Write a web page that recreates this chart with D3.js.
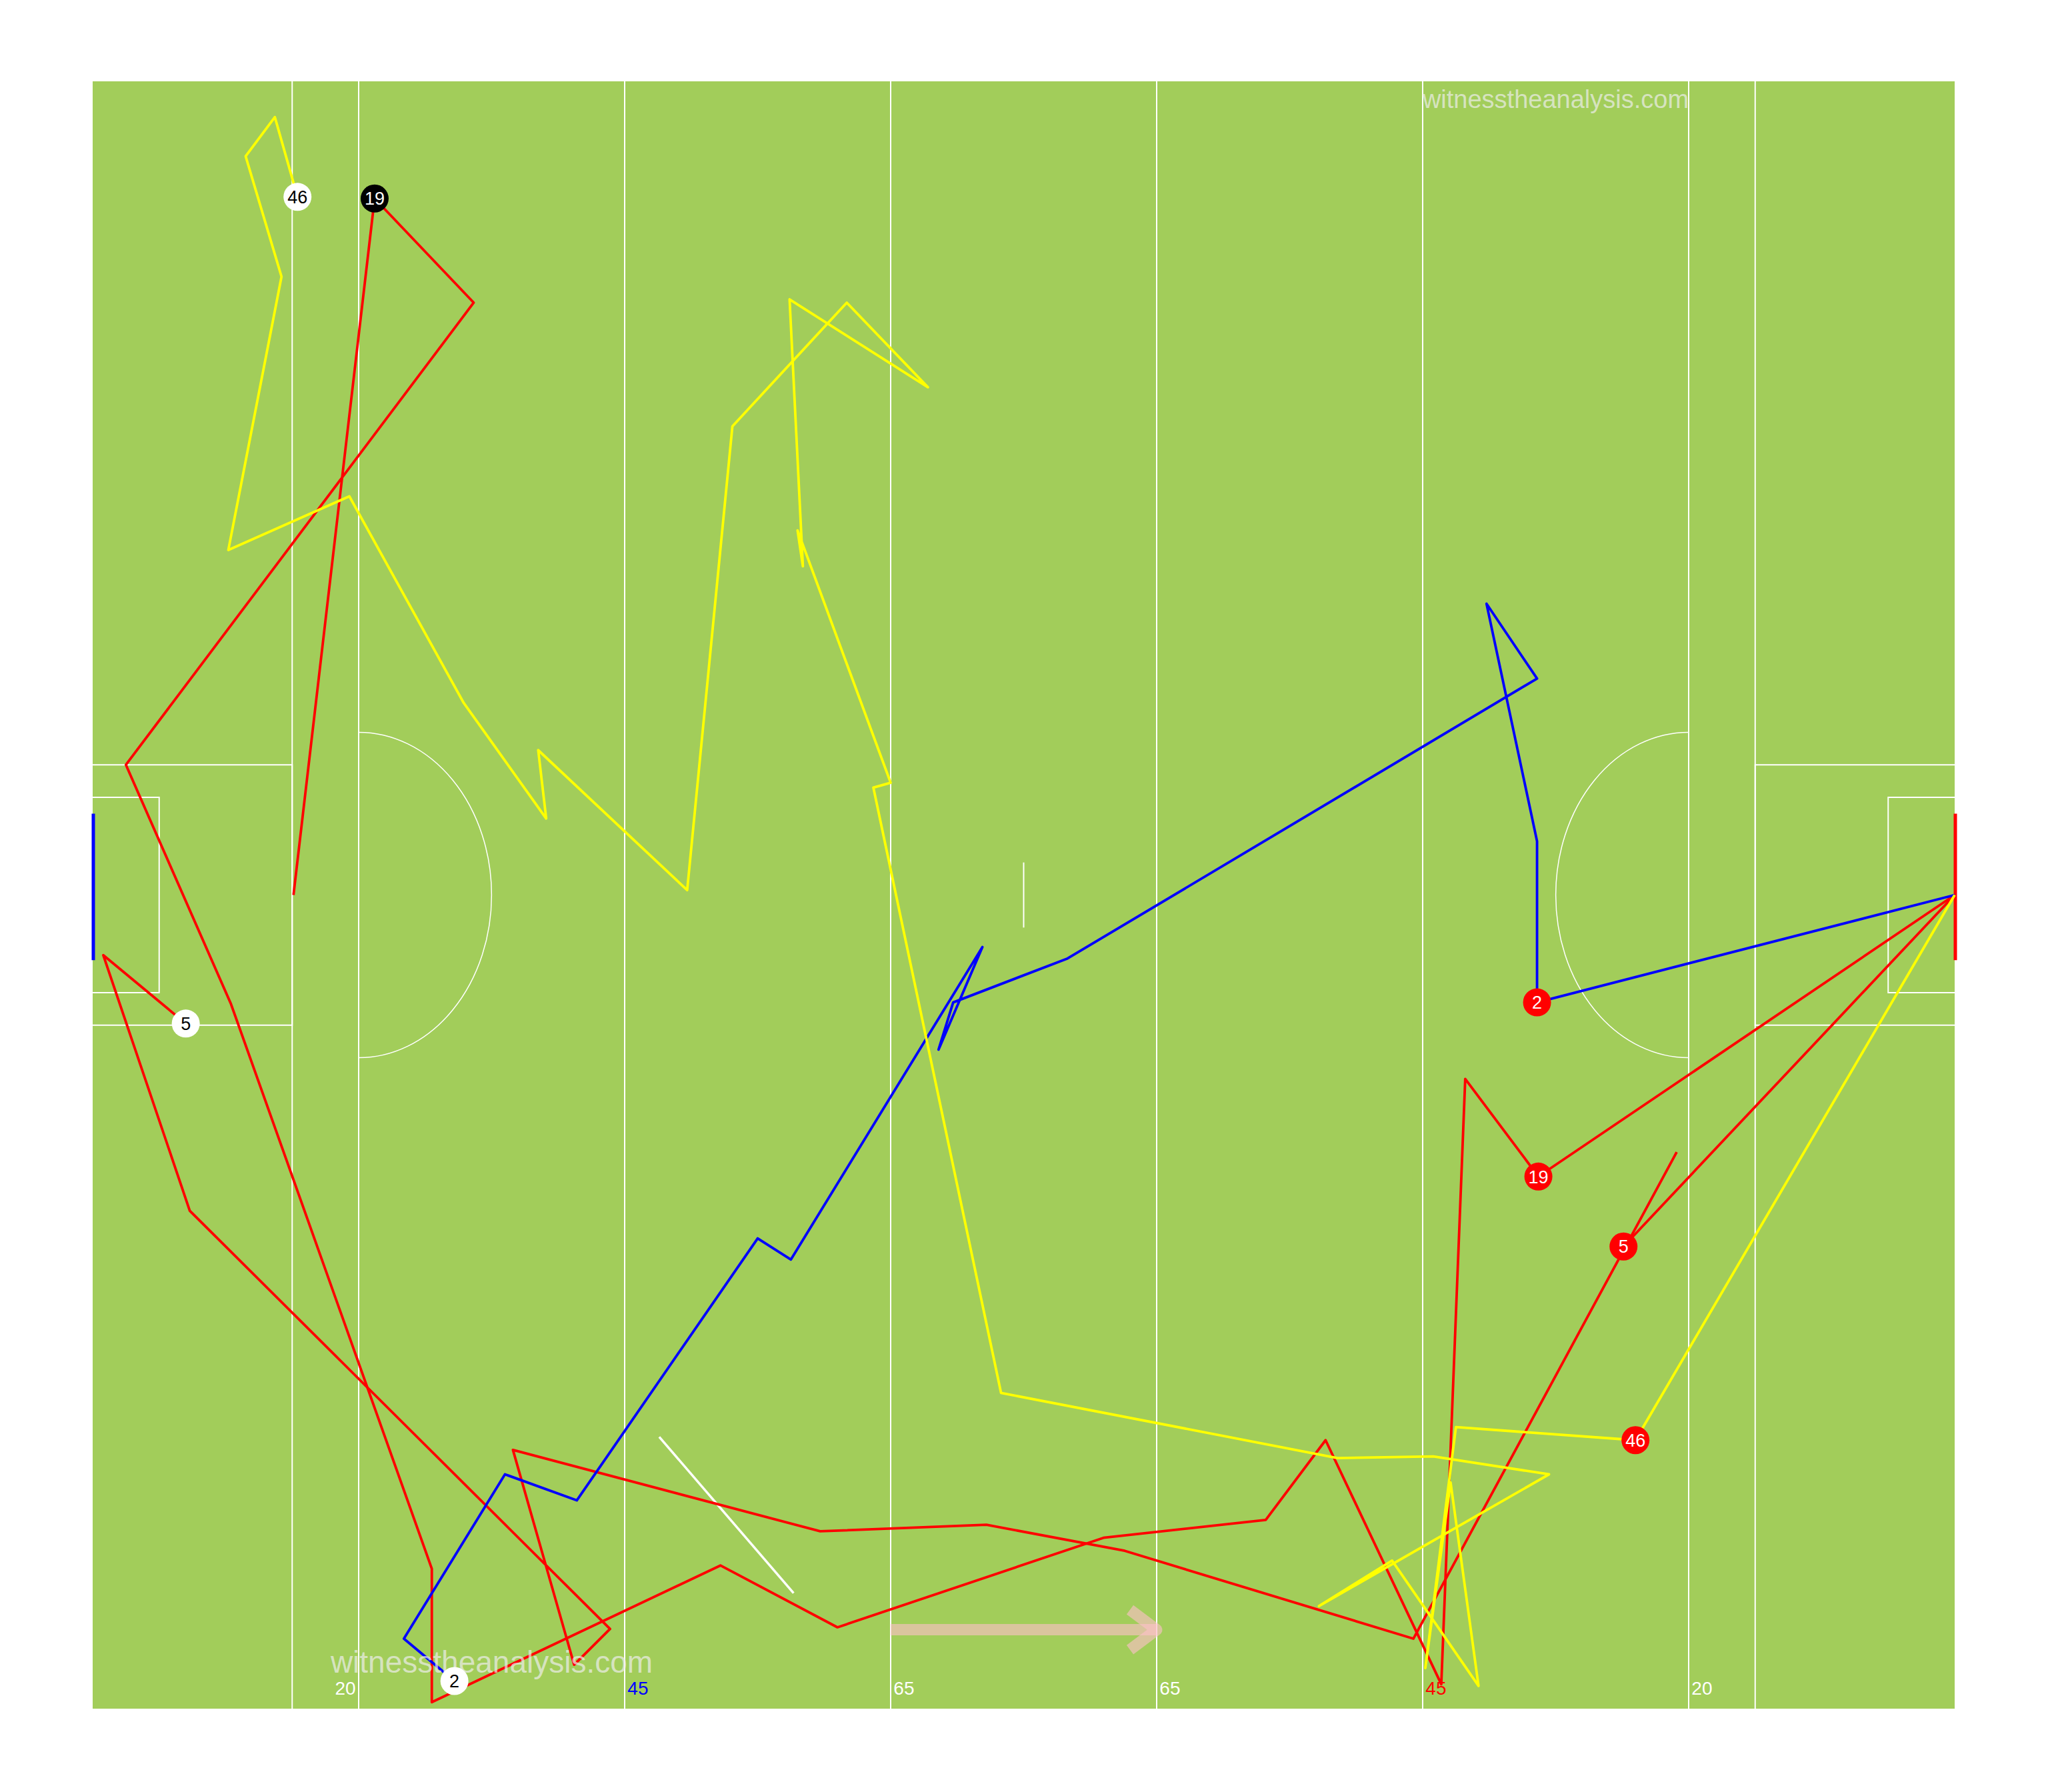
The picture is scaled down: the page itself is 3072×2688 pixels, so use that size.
<!DOCTYPE html>
<html>
<head>
<meta charset="utf-8">
<script src="https://cdn.jsdelivr.net/npm/d3@7"></script>
<style>
  body { margin: 0; background: #fff; }
  text { font-family: "Liberation Sans", Arial, sans-serif; }
</style>
</head>
<body>
<svg id="pitch" width="3072" height="2688"></svg>
<script>
// pitch markings, metres along the pitch (0-140) / percent across (0-100)
var lineMarks = [15, 20, 40, 60, 80, 100, 120, 125];
var distLabels = ["20", "45", "65", "65", "45", "20"];
var distLabelAt = [19, 41, 61, 81, 101, 121];

// players tracked
var players = ["46", "19", "5", "2"];

// possession runs, one per player
var run46 = [[15.4, 7.1], [13.7, 2.2], [11.5, 4.6], [14.2, 12.0], [10.2, 28.8], [19.3, 25.5],
  [27.9, 38.2], [34.1, 45.3], [33.5, 41.1], [44.7, 49.7], [48.1, 21.2], [56.7, 13.6],
  [62.8, 18.8], [52.4, 13.4], [53.4, 29.8], [53.0, 27.6], [60.0, 43.1], [58.7, 43.4],
  [68.3, 80.6], [93.6, 84.6], [100.8, 84.5], [109.5, 85.6], [92.2, 93.7], [97.7, 90.9],
  [104.2, 98.6], [102.1, 86.1], [100.2, 97.5], [102.5, 82.7], [116.0, 83.5]];
var run19 = [[15.1, 50.0], [21.2, 7.2], [28.65, 13.6], [2.5, 42.0], [10.4, 56.7], [25.5, 91.4],
  [25.5, 99.6], [47.2, 91.2], [56.0, 95.0], [76.0, 89.5], [88.2, 88.4], [92.7, 83.5],
  [101.4, 98.5], [103.2, 61.3], [108.7, 67.3]];
var run5 = [[7.0, 57.9], [0.8, 53.7], [7.3, 69.4], [38.9, 95.1], [36.2, 97.3], [31.6, 84.1],
  [54.7, 89.1], [67.2, 88.7], [77.6, 90.3], [99.3, 95.7], [119.1, 65.8]];
var run2 = [[27.2, 98.3], [23.4, 95.7], [31.0, 85.6], [36.4, 87.2], [50.0, 71.1], [52.5, 72.4],
  [66.9, 53.2], [63.6, 59.5], [64.7, 56.6], [73.3, 53.9], [108.6, 36.7], [104.8, 32.1],
  [108.6, 46.7], [108.6, 56.6]];

var startSpots = [[15.4, 7.1], [21.2, 7.2], [7.0, 57.9], [27.2, 98.3]];
var shotSpots = [[116.0, 83.5], [108.7, 67.3], [115.1, 71.6], [108.6, 56.6]];
var goalMouth = [140, 50];

// other marks
var passLine = [[42.6, 83.3], [52.7, 92.9]];
var attackArrow = [[60, 95.15], [80, 95.15]];

var x = d3.scaleLinear().domain([0, 140]).range([139, 2932]);
var y = d3.scaleLinear().domain([0, 100]).range([122, 2563]);

var runColour = { "46": "#ffff00", "19": "#ff0000", "5": "#ff0000", "2": "#0000ff" };
var runs = { "46": run46, "19": run19, "5": run5, "2": run2 };

var svg = d3.select("#pitch");
var line = d3.line().x(d => x(d[0])).y(d => y(d[1]));

// grass
svg.append("rect")
  .attr("x", x(0)).attr("y", y(0))
  .attr("width", x(140) - x(0)).attr("height", y(100) - y(0))
  .attr("fill", "#a2cd5a");

var g = svg.append("g").attr("fill", "none").attr("stroke", "white");

g.selectAll("line.mark")
  .data(lineMarks)
  .enter()
  .append("line")
  .attr("class", "mark")
  .attr("x1", d => x(d)).attr("x2", d => x(d))
  .attr("y1", y(0)).attr("y2", y(100))
  .attr("stroke-width", 2);

// boxes at both ends
[[0, 15, 42, 58], [0, 5, 44, 56], [125, 140, 42, 58], [135, 140, 44, 56]].forEach(function (b) {
  var open = b[0] == 0 ? x(b[0]) : x(b[1]);
  var shut = b[0] == 0 ? x(b[1]) : x(b[0]);
  g.append("path")
    .attr("d", "M" + open + "," + y(b[2]) + "H" + shut + "V" + y(b[3]) + "H" + open)
    .attr("stroke-width", 2);
});

// semicircles
var rx = x(30) - x(20), ry = y(60) - y(50);
g.append("path")
  .attr("d", "M" + x(20) + "," + y(40) + "A" + rx + "," + ry + " 0 0 1 " + x(20) + "," + y(60))
  .attr("stroke-width", 1.5);
g.append("path")
  .attr("d", "M" + x(120) + "," + y(40) + "A" + rx + "," + ry + " 0 0 0 " + x(120) + "," + y(60))
  .attr("stroke-width", 1.5);

// halfway mark
g.append("line")
  .attr("x1", x(70)).attr("x2", x(70))
  .attr("y1", y(48)).attr("y2", y(52))
  .attr("stroke-width", 2);

// goals
svg.append("line")
  .attr("x1", x(0) + 1).attr("x2", x(0) + 1)
  .attr("y1", y(45)).attr("y2", y(54))
  .attr("stroke", "#0000ff").attr("stroke-width", 5);
svg.append("line")
  .attr("x1", x(140) + 1).attr("x2", x(140) + 1)
  .attr("y1", y(45)).attr("y2", y(54))
  .attr("stroke", "#ff0000").attr("stroke-width", 5);

// distance labels
svg.append("g")
  .selectAll("text")
  .data(distLabels)
  .enter()
  .append("text")
  .attr("x", (d, i) => x(distLabelAt[i]))
  .attr("y", y(99.15))
  .attr("text-anchor", "middle")
  .style("font-size", "28px")
  .attr("fill", (d, i) => d == "45" ? (i < 3 ? "#0000ff" : "#ff0000") : "white")
  .text(d => d);

// white pass line
svg.append("path")
  .attr("d", line(passLine))
  .attr("stroke", "white").attr("stroke-width", 3.5).attr("fill", "none");

// direction of play arrow
var tip = attackArrow[1];
svg.append("line")
  .attr("x1", x(attackArrow[0][0])).attr("x2", x(tip[0]))
  .attr("y1", y(attackArrow[0][1])).attr("y2", y(tip[1]))
  .attr("stroke", "#ffc0cb").attr("stroke-opacity", 0.6).attr("stroke-width", 17);
svg.append("path")
  .attr("d", "M" + (x(tip[0]) - 40) + "," + (y(tip[1]) - 30) + "L" + x(tip[0]) + "," + y(tip[1]) +
    "L" + (x(tip[0]) - 40) + "," + (y(tip[1]) + 30))
  .attr("fill", "none")
  .attr("stroke", "#ffc0cb").attr("stroke-opacity", 0.6).attr("stroke-width", 17)
  .attr("stroke-linejoin", "round");

// runs and shots
var order = ["5", "19", "2", "46"];
order.forEach(function (p) {
  var i = players.indexOf(p);
  svg.append("path")
    .attr("d", line(runs[p]))
    .attr("fill", "none")
    .attr("stroke", runColour[p])
    .attr("stroke-width", 3.8)
    .attr("stroke-linejoin", "round");
  svg.append("path")
    .attr("d", line([shotSpots[i], goalMouth]))
    .attr("fill", "none")
    .attr("stroke", runColour[p])
    .attr("stroke-width", 3.8);
});

// watermarks
svg.append("text")
  .attr("x", x(110)).attr("y", y(1.65))
  .attr("text-anchor", "middle")
  .style("font-size", "38px")
  .attr("fill", "#eeeeee").attr("fill-opacity", 0.7)
  .text("witnesstheanalysis.com");
svg.append("text")
  .attr("x", x(30)).attr("y", y(97.8))
  .attr("text-anchor", "middle")
  .style("font-size", "46px")
  .attr("fill", "#eeeeee").attr("fill-opacity", 0.7)
  .text("witnesstheanalysis.com");

// start markers
var starts = svg.append("g")
  .selectAll("g")
  .data(players)
  .enter()
  .append("g")
  .attr("transform", (d, i) => "translate(" + x(startSpots[i][0]) + "," + y(startSpots[i][1]) + ")");
starts.append("circle")
  .attr("r", 21)
  .attr("fill", d => d == "19" ? "black" : "white");
starts.append("text")
  .attr("text-anchor", "middle")
  .attr("dy", "0.36em")
  .style("font-size", "27px")
  .attr("fill", d => d == "19" ? "white" : "black")
  .text(d => d);

// shot markers
var shots = svg.append("g")
  .selectAll("g")
  .data(players)
  .enter()
  .append("g")
  .attr("transform", (d, i) => "translate(" + x(shotSpots[i][0]) + "," + y(shotSpots[i][1]) + ")");
shots.append("circle")
  .attr("r", 21)
  .attr("fill", "#ff0000");
shots.append("text")
  .attr("text-anchor", "middle")
  .attr("dy", "0.36em")
  .style("font-size", "27px")
  .attr("fill", "white")
  .text(d => d);
</script>
</body>
</html>
